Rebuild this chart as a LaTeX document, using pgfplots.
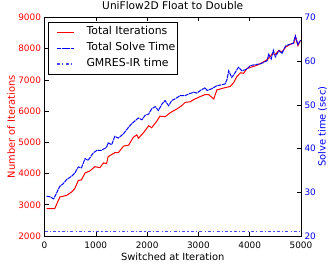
\documentclass[border=0pt]{standalone}
\usepackage{pgfplots}
\pgfplotsset{compat=1.18}
\usepackage{fontspec}
\setmainfont{DejaVu Sans}
\definecolor{gmres}{rgb}{0.3,0.3,1}
\begin{document}
\begin{tikzpicture}
\pgfplotsset{every axis/.append style={
  width=256.5pt, height=218.5pt, scale only axis,
  at={(0,0)}, anchor=south west,
  /pgf/number format/assume math mode=true,
  /pgf/number format/1000 sep={},
  xmin=0, xmax=5000,
  tick align=inside,
  major tick length=4pt,
  tick style={black, line width=0.6pt},
  axis line style={black, line width=0.9pt},
  tick label style={font=\fontsize{8.9}{10}\selectfont},
  label style={font=\fontsize{9.9}{11}\selectfont},
  scaled ticks=false,
}}
\begin{axis}[
  ymin=2000, ymax=9000,
  xtick={0,1000,2000,3000,4000,5000},
  ytick={2000,3000,4000,5000,6000,7000,8000,9000},
  ytick pos=left,
  xtick pos=both,
  yticklabel style={red},
  xticklabel style={yshift=-2.5pt},
  ylabel={Number of Iterations},
  ylabel style={red, at={(rel axis cs:0,0.5)}, yshift=29.5pt, anchor=base},
  xlabel={Switched at Iteration},
  xlabel style={at={(rel axis cs:0.5,0)}, yshift=-24.5pt, anchor=base},
  title={UniFlow2D Float to Double},
  title style={font=\fontsize{10.6}{12}\selectfont, at={(rel axis cs:0.5,1)}, yshift=2.3pt, anchor=base},
]
\addplot[red, line width=1pt] coordinates {
(40,2880)(200,2880)(300,3250)(430,3300)(530,3410)(590,3520)(660,3780)(720,3800)
(790,4020)(890,4090)(980,4220)(1080,4190)(1150,4340)(1210,4320)(1240,4540)
(1370,4670)(1440,4670)(1540,4880)(1640,4910)(1730,5160)(1800,5240)(1830,5130)
(1930,5310)(2030,5530)(2090,5470)(2190,5680)(2250,5840)(2350,5820)(2450,5950)
(2580,6070)(2680,6180)(2740,6280)(2840,6300)(2910,6370)(3040,6470)(3130,6530)
(3200,6530)(3300,6390)(3360,6680)(3490,6740)(3620,6790)(3690,6920)(3750,7110)
(3820,7230)(3880,7210)(3950,7370)(4050,7420)(4140,7470)(4240,7550)(4340,7650)
(4400,7740)(4440,7840)(4500,7820)(4570,7950)(4630,7890)(4700,8050)(4790,8140)
(4860,8180)(4890,8390)(4940,8100)(4990,8260)
};
\coordinate (sw) at (rel axis cs:0,0);
\coordinate (ne) at (rel axis cs:1,1);
\end{axis}
\begin{axis}[
  ymin=20, ymax=70,
  ytick={20,30,40,50,60,70},
  axis y line*=right,
  axis x line=none,
  yticklabel style={blue},
  ylabel={Solve time (sec)},
  ylabel style={blue, at={(rel axis cs:1,0.5)}, yshift=-24.5pt, anchor=base},
  legend cell align=left,
  legend style={at={(rel axis cs:0.015,0.981)}, anchor=north west, draw=black,
    line width=0.8pt,
    font=\fontsize{10.9}{12}\selectfont,
    inner xsep=1.7pt, inner ysep=2pt, row sep=0pt, column sep=12pt,
    nodes={inner sep=0pt, text height=10pt, text depth=6pt}},
  legend image code/.code={\path (0pt,0pt); \draw[#1] (6pt,0pt) -- (23pt,0pt);},
]
\addlegendimage{red, line width=1pt}
\addlegendentry{Total Iterations}
\addplot[blue, line width=1pt, dash pattern=on 4pt off 0.7pt] coordinates {
(40,29.1)(100,29.0)(180,28.5)(230,29.7)(300,31.4)(360,31.9)(430,32.9)(530,33.7)
(590,34.4)(660,35.8)(720,35.6)(790,37.7)(850,37.3)(950,39.0)(1020,39.6)
(1110,39.6)(1210,40.3)(1240,41.3)(1310,40.9)(1370,42.8)(1440,42.4)(1540,43.4)
(1640,44.9)(1700,45.7)(1770,46.4)(1830,47.0)(1900,46.6)(1960,47.6)(2030,47.9)
(2090,49.1)(2160,49.6)(2220,48.7)(2290,50.2)(2350,51.0)(2420,49.8)(2480,51.0)
(2550,51.4)(2640,52.1)(2740,52.1)(2810,52.5)(2910,52.9)(2970,52.7)(3040,53.3)
(3130,53.9)(3170,53.3)(3260,53.7)(3360,54.4)(3460,54.6)(3520,54.8)(3560,55.9)
(3590,57.8)(3650,56.3)(3690,56.9)(3780,58.6)(3850,57.8)(3950,58.2)(4010,59.0)
(4110,59.2)(4210,59.4)(4270,59.7)(4340,60.1)(4370,61.6)(4420,60.5)(4460,62.5)
(4500,61.0)(4570,62.4)(4630,61.8)(4700,63.5)(4790,63.9)(4850,64.1)(4890,65.8)
(4940,63.8)(4990,64.8)
};
\addlegendentry{Total Solve Time}
\addplot[gmres, line width=1.1pt, dash pattern=on 3pt off 2.2pt on 1.2pt off 2.2pt] coordinates {
(0,21.1)(1000,21.1)(2000,21.1)(3000,21.1)(4000,21.1)(5000,21.1)
};
\addlegendentry{GMRES-IR time}
\end{axis}
\pgfresetboundingbox
\useasboundingbox ([xshift=-44.5pt,yshift=-32.5pt]sw) rectangle ([xshift=32pt,yshift=17.5pt]ne);
\end{tikzpicture}
\end{document}
